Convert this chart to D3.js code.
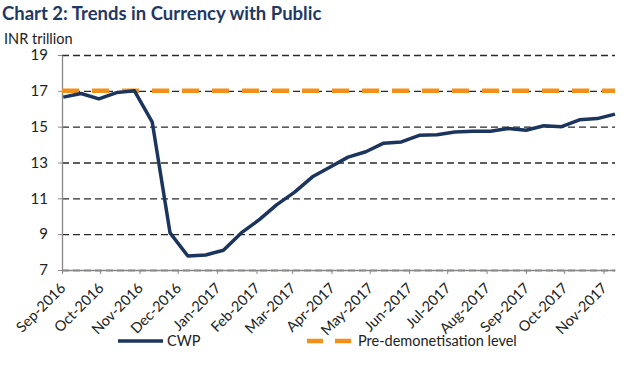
<!DOCTYPE html>
<html lang="en">
<head>
<meta charset="UTF-8">
<title>Chart 2: Trends in Currency with Public</title>
<script src="https://d3js.org/d3.v7.min.js"></script>
<style>
    body { margin: 0; background: #fff; }
    svg { display: block; font-family: Lato, "Open Sans", sans-serif; }
</style>
</head>
<body>
<script>
    // fortnightly reporting dates and currency with public (INR trillion)
    var dates = ['2016-09-02', '2016-09-16', '2016-09-30', '2016-10-14', '2016-10-28',
        '2016-11-11', '2016-11-25', '2016-12-09', '2016-12-23', '2017-01-06',
        '2017-01-20', '2017-02-03', '2017-02-17', '2017-03-03', '2017-03-17',
        '2017-03-31', '2017-04-14', '2017-04-28', '2017-05-12', '2017-05-26',
        '2017-06-09', '2017-06-23', '2017-07-07', '2017-07-21', '2017-08-04',
        '2017-08-18', '2017-09-01', '2017-09-15', '2017-09-29', '2017-10-13',
        '2017-10-27', '2017-11-10']
    var cwp = [16.65, 16.85, 16.55, 16.9, 17.0,
        15.25, 9.07, 7.78, 7.84, 8.1,
        9.07, 9.8, 10.65, 11.35, 12.2,
        12.75, 13.3, 13.6, 14.08, 14.15,
        14.52, 14.55, 14.7, 14.75, 14.75,
        14.9, 14.8, 15.05, 15.0, 15.38,
        15.45, 15.7]
    var preDemonetisationLevel = 17.0
    var yTicks = [7, 9, 11, 13, 15, 17, 19]

    var width = 638
    var height = 378
    var margin = {top: 55, right: 23, bottom: 108, left: 62}

    var parse = d3.timeParse('%Y-%m-%d')
    var data = dates.map(function(d, i) { return {date: parse(d), value: cwp[i]} })

    var svg = d3.select('body').append('svg')
        .attr('width', width)
        .attr('height', height)

    // date axis starts at the first month boundary, like the original
    var x = d3.scaleTime()
        .domain([d3.timeMonth.floor(data[0].date), data[data.length - 1].date])
        .range([margin.left, width - margin.right])
    var y = d3.scaleLinear()
        .domain([7, 19])
        .range([height - margin.bottom, margin.top])

    // title
    svg.append('text')
        .attr('x', 2)
        .attr('y', 20)
        .attr('fill', '#1f3864')
        .attr('font-size', '18.5px')
        .attr('font-weight', 'bold')
        .text('Chart 2: Trends in Currency with Public')

    svg.append('text')
        .attr('x', 4)
        .attr('y', 44)
        .attr('fill', '#222')
        .attr('font-size', '14.5px')
        .text('INR trillion')

    // dashed gridlines
    svg.append('g')
        .attr('transform', 'translate(' + margin.left + ',0)')
        .call(d3.axisLeft(y).tickValues(yTicks).tickSize(-(width - margin.right - margin.left)).tickFormat(''))
        .call(function(g) {
            g.select('.domain').remove()
            g.selectAll('line')
                .attr('stroke', '#2a2a2a')
                .attr('stroke-width', 1.4)
                .attr('stroke-dasharray', '7,4')
        })

    // y axis
    svg.append('g')
        .attr('transform', 'translate(' + margin.left + ',0)')
        .call(d3.axisLeft(y).tickValues(yTicks).tickSize(4).tickSizeOuter(0).tickPadding(10))
        .call(function(g) {
            g.select('.domain').attr('stroke', '#888').attr('stroke-width', 1.3)
            g.selectAll('line').attr('stroke', '#888')
            g.selectAll('text').attr('fill', '#222').attr('font-size', '15px')
                .attr('font-family', 'Lato, sans-serif')
        })

    // x axis
    svg.append('g')
        .attr('transform', 'translate(0,' + (height - margin.bottom) + ')')
        .call(d3.axisBottom(x).ticks(d3.timeMonth.every(1)).tickFormat(d3.timeFormat('%b-%Y'))
            .tickSize(4).tickSizeOuter(0))
        .call(function(g) {
            g.select('.domain').attr('stroke', '#888').attr('stroke-width', 1.3)
            g.selectAll('line').attr('stroke', '#888')
            g.selectAll('text')
                .attr('fill', '#222')
                .attr('font-size', '14.5px')
                .attr('font-family', 'Lato, sans-serif')
                .attr('text-anchor', 'end')
                .attr('x', 0)
                .attr('y', 0)
                .attr('dy', 0)
                .attr('transform', 'translate(4,19) rotate(-45)')
        })

    // pre-demonetisation level
    svg.append('line')
        .attr('x1', x.range()[0])
        .attr('x2', x.range()[1])
        .attr('y1', y(preDemonetisationLevel))
        .attr('y2', y(preDemonetisationLevel))
        .attr('stroke', '#f39019')
        .attr('stroke-width', 4.5)
        .attr('stroke-dasharray', '17,13')

    // CWP line
    var line = d3.line()
        .x(function(d) { return x(d.date) })
        .y(function(d) { return y(d.value) })
    svg.append('path')
        .datum(data)
        .attr('fill', 'none')
        .attr('stroke', '#1c355e')
        .attr('stroke-width', 3.5)
        .attr('stroke-linejoin', 'round')
        .attr('d', line)

    // legend
    var legend = svg.append('g').attr('font-size', '14.5px').attr('fill', '#222')
    legend.append('line')
        .attr('x1', 118).attr('x2', 163).attr('y1', 341).attr('y2', 341)
        .attr('stroke', '#1c355e').attr('stroke-width', 3.5)
    legend.append('text').attr('x', 167).attr('y', 346).text('CWP')
    legend.append('line')
        .attr('x1', 307).attr('x2', 351).attr('y1', 341).attr('y2', 341)
        .attr('stroke', '#f39019').attr('stroke-width', 4.5)
        .attr('stroke-dasharray', '16,12')
    legend.append('text').attr('x', 358).attr('y', 346).text('Pre-demonetisation level')
</script>
</body>
</html>
